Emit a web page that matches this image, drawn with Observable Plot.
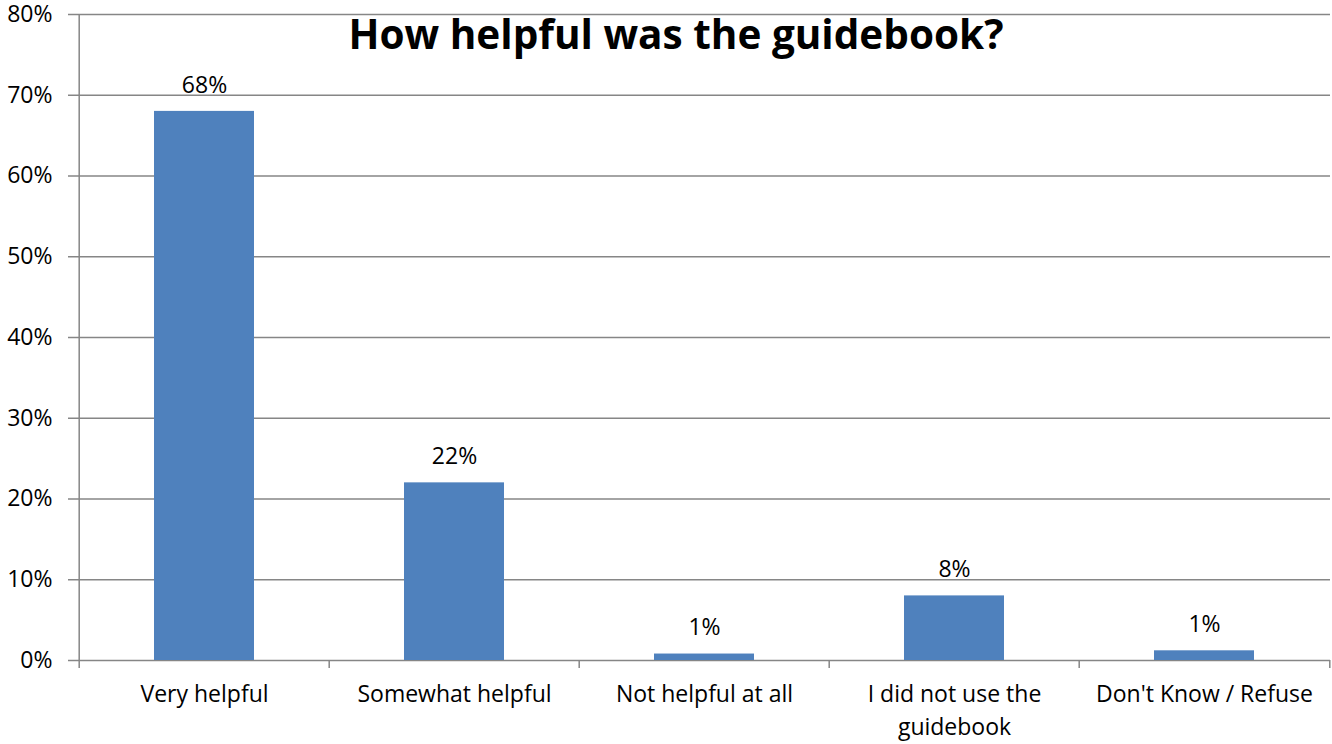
<!DOCTYPE html>
<html>
<head>
<meta charset="utf-8">
<script src="https://cdn.jsdelivr.net/npm/d3@7"></script>
<script src="https://cdn.jsdelivr.net/npm/@observablehq/plot@0.6"></script>
<style>
  body { margin: 0; background: #fff; }
  #wrap { position: relative; width: 1332px; height: 744px; overflow: hidden; }
  #title { position: absolute; left: 0; top: 14px; width: 1352px; margin: 0; text-align: center;
           font: 700 40.5px/1 "Open Sans", sans-serif; color: #000; z-index: 2; }
  #chart svg { display: block; overflow: visible; }
</style>
</head>
<body>
<div id="wrap">
  <h1 id="title">How helpful was the guidebook?</h1>
  <div id="chart"></div>
</div>
<script>
// ---- data ----
const categories = ["Very helpful", "Somewhat helpful", "Not helpful at all", "I did not use the guidebook", "Don't Know / Refuse"];
const categoryLabels = ["Very helpful", "Somewhat helpful", "Not helpful at all", "I did not use the\nguidebook", "Don't Know / Refuse"];
const values = [68, 22, 0.8, 8, 1.2];
const valueLabels = ["68%", "22%", "1%", "8%", "1%"];
const yTicks = [0, 10, 20, 30, 40, 50, 60, 70, 80];
const yTickLabels = ["0%", "10%", "20%", "30%", "40%", "50%", "60%", "70%", "80%"];

const rows = categories.map((c, i) => ({category: c, value: values[i], label: valueLabels[i]}));

// ---- layout ----
const W = 1332, H = 744;
const mL = 77, mR = 2, mT = 14, mB = 84;
const step = (W - mL - mR) / categories.length;
const gridColor = "#868686";
const font = "'Open Sans', sans-serif";

const chart = Plot.plot({
  width: W,
  height: H,
  marginLeft: mL,
  marginRight: mR,
  marginTop: mT,
  marginBottom: mB,
  style: {fontFamily: font, fontSize: "23px", color: "#000", background: "#fff", overflow: "visible"},
  x: {domain: categories, paddingInner: 0.6, paddingOuter: 0.3},
  y: {domain: [0, 80]},
  marks: [
    Plot.ruleY(yTicks, {y: d => d, stroke: gridColor, strokeWidth: 1.5}),
    Plot.axisY({
      ticks: yTicks,
      tickFormat: d => yTickLabels[yTicks.indexOf(d)],
      tickSize: 9,
      tickPadding: 16,
      stroke: gridColor,
      strokeWidth: 1.5,
      fill: "#000",
      fontSize: 23,
      label: null
    }),
    // vertical axis line
    Plot.ruleX([categories[0]], {x: d => d, dx: -step / 2, stroke: gridColor, strokeWidth: 1.5}),
    // category boundary ticks
    Plot.ruleX(categories, {x: d => d, y1: 0, y2: 0, insetBottom: -8, dx: -step / 2, stroke: gridColor, strokeWidth: 1.5}),
    Plot.ruleX([categories[categories.length - 1]], {x: d => d, y1: 0, y2: 0, insetBottom: -8, dx: step / 2, stroke: gridColor, strokeWidth: 1.5}),
    Plot.barY(rows, {x: "category", y: "value", fill: "#4F81BD"}),
    Plot.text(rows, {x: "category", y: "value", text: "label", dy: -26, fontSize: 23, fill: "#000"}),
    Plot.axisX({
      tickSize: 0,
      tickPadding: 19,
      tickFormat: d => categoryLabels[categories.indexOf(d)],
      fontSize: 23,
      lineHeight: 1.4,
      fill: "#000",
      label: null
    })
  ]
});
document.getElementById("chart").appendChild(chart);
</script>
</body>
</html>
